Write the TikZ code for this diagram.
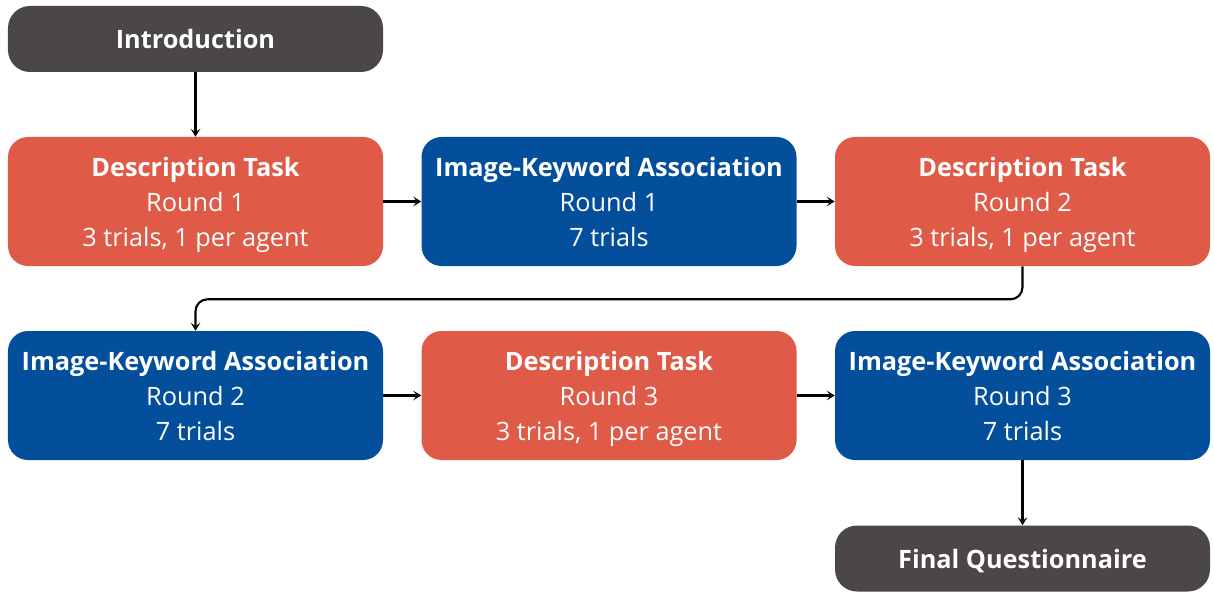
\documentclass[tikz,border=0pt]{standalone}
\usepackage{fontspec}
\setmainfont{Open Sans}
\usetikzlibrary{arrows.meta}
\definecolor{taskred}{HTML}{E05A48}
\definecolor{assocblue}{HTML}{034F9B}
\definecolor{framegray}{HTML}{4A4649}
\newcommand{\kstrut}{\rule{0pt}{21.7pt}}
\tikzset{
  stagebox/.style={rounded corners=0.5cm,minimum width=9.375cm,minimum height=3.225cm,text=white,align=center,font=\fontsize{18}{24.9}\selectfont,inner sep=0pt},
  endbox/.style={rounded corners=0.55cm,fill=framegray,minimum width=9.375cm,minimum height=1.65cm,text=white,font=\fontsize{18}{24.9}\selectfont\bfseries,inner sep=0pt},
  flow/.style={line width=1.5pt,-{Stealth[length=2mm,width=2.4mm,inset=0.9mm]}}
}
\begin{document}
\begin{tikzpicture}
\useasboundingbox (0,0) rectangle (30.35,-14.875);
\pgfmathsetmacro{\kcolA}{4.8875}
\pgfmathsetmacro{\kcolB}{15.225}
\pgfmathsetmacro{\kcolC}{25.5625}
\node[endbox](intro) at (\kcolA,-0.975){\kstrut Introduction\strut};
\node[stagebox,fill=taskred](d1) at (\kcolA,-5.0375){\kstrut\textbf{Description Task}\\Round 1\\3 trials, 1 per agent\strut};
\node[stagebox,fill=assocblue](ik1) at (\kcolB,-5.0375){\kstrut\textbf{Image-Keyword Association}\\Round 1\\7 trials\strut};
\node[stagebox,fill=taskred](d2) at (\kcolC,-5.0375){\kstrut\textbf{Description Task}\\Round 2\\3 trials, 1 per agent\strut};
\node[stagebox,fill=assocblue](ik2) at (\kcolA,-9.8875){\kstrut\textbf{Image-Keyword Association}\\Round 2\\7 trials\strut};
\node[stagebox,fill=taskred](d3) at (\kcolB,-9.8875){\kstrut\textbf{Description Task}\\Round 3\\3 trials, 1 per agent\strut};
\node[stagebox,fill=assocblue](ik3) at (\kcolC,-9.8875){\kstrut\textbf{Image-Keyword Association}\\Round 3\\7 trials\strut};
\node[endbox](final) at (\kcolC,-13.9625){\kstrut Final Questionnaire\strut};
\draw[flow](intro)--(d1);
\foreach \ka/\kb in {d1/ik1,ik1/d2,ik2/d3,d3/ik3}{\draw[flow](\ka)--(\kb);}
\draw[flow,rounded corners=0.3cm](d2.south)--++(0,-0.825)-|(ik2.north);
\draw[flow](ik3)--(final);
\end{tikzpicture}
\end{document}
